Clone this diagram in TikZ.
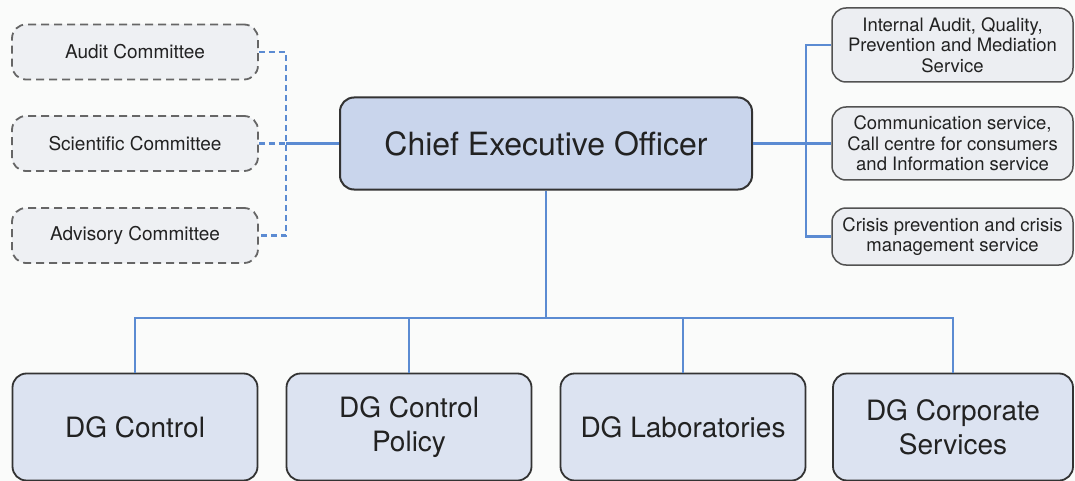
\documentclass[tikz,border=0pt]{standalone}
\usepackage{fontspec}
\setmainfont{TeX Gyre Heros}
\definecolor{linkblue}{HTML}{5B8BD2}
\definecolor{ceofill}{HTML}{C9D5EC}
\definecolor{dgfill}{HTML}{DCE3F1}
\definecolor{svcfill}{HTML}{ECEEF2}
\definecolor{comfill}{HTML}{EEF0F3}
\definecolor{edge}{HTML}{333333}
\definecolor{txt}{HTML}{222222}
\definecolor{bg}{HTML}{FAFBFA}
\begin{document}
\begin{tikzpicture}[x=1pt,y=-1pt,
  every node/.style={text=txt, align=center, inner sep=0pt},
  ceobox/.style={draw=edge, line width=2pt, fill=ceofill, rounded corners=14pt,
    minimum width=412pt, minimum height=92pt, font=\fontsize{32}{38}\selectfont},
  dgbox/.style={draw=edge, line width=1.8pt, fill=dgfill, rounded corners=14pt,
    minimum width=245pt, minimum height=107pt, font=\fontsize{28}{34}\selectfont},
  svcbox/.style={draw=edge!85, line width=1.5pt, fill=svcfill, rounded corners=14pt,
    minimum width=241pt, font=\fontsize{18.5}{20.5}\selectfont},
  combox/.style={draw=edge!75, line width=1.8pt, dash pattern=on 8pt off 5pt,
    fill=comfill, rounded corners=14pt, minimum width=246pt, minimum height=55pt,
    font=\fontsize{19}{22}\selectfont},
  link/.style={draw=linkblue, line width=2.6pt},
  dlink/.style={link, dash pattern=on 6pt off 4pt}]

% canvas
\fill[bg] (0,0) rectangle (1075,481);
\useasboundingbox (0,0) rectangle (1075,481);

% chief executive
\node[ceobox] (ceo) at (546,143.5) {Chief Executive Officer};

% committees (dashed)
\node[combox] (audit) at (135,52)   {Audit Committee};
\node[combox] (sci)   at (135,143.5)  {Scientific Committee};
\node[combox] (adv)   at (135,235.5) {Advisory Committee};

% services on the right
\node[svcbox, minimum height=74pt] (s1) at (952.5,45)
  {Internal Audit, Quality,\\Prevention and Mediation\\Service};
\node[svcbox, minimum height=73pt] (s2) at (952.5,143.5)
  {Communication service,\\Call centre for consumers\\and Information service};
\node[svcbox, minimum height=57pt] (s3) at (952.5,236.5)
  {Crisis prevention and crisis\\management service};

% directorates general
\begin{scope}
\clip (0,0) rectangle (1075,481);
\node[dgbox] (d1) at (135,427)   {DG Control};
\node[dgbox] (d2) at (409,427)   {DG Control\\Policy};
\node[dgbox] (d3) at (683,427)   {DG Laboratories};
\node[dgbox, minimum width=240pt] (d4) at (953,427) {DG Corporate\\Services};
\end{scope}

% junction points
\coordinate (lbus) at (286,143.5);
\coordinate (rbus) at (806,143.5);
\coordinate (bbus) at (546,318);

% committee links
\draw[dlink] (audit.east) -- (audit.east -| lbus) -- (adv.east -| lbus) -- (adv.east);
\draw[dlink] (sci.east) -- (lbus);
\draw[link] (lbus) -- (ceo.west);

% service links
\draw[link] (ceo.east) -- (rbus);
\draw[link] (s1.west) -- (s1.west -| rbus) -- (s3.west -| rbus) -- (s3.west);
\draw[link] (s2.west -| rbus) -- (s2.west);

% directorate links
\draw[link] (ceo.south) -- (bbus);
\draw[link] (d1.north) -- (d1.north |- bbus) -- (d4.north |- bbus) -- (d4.north);
\draw[link] (d2.north) -- (d2.north |- bbus);
\draw[link] (d3.north) -- (d3.north |- bbus);
\end{tikzpicture}
\end{document}
